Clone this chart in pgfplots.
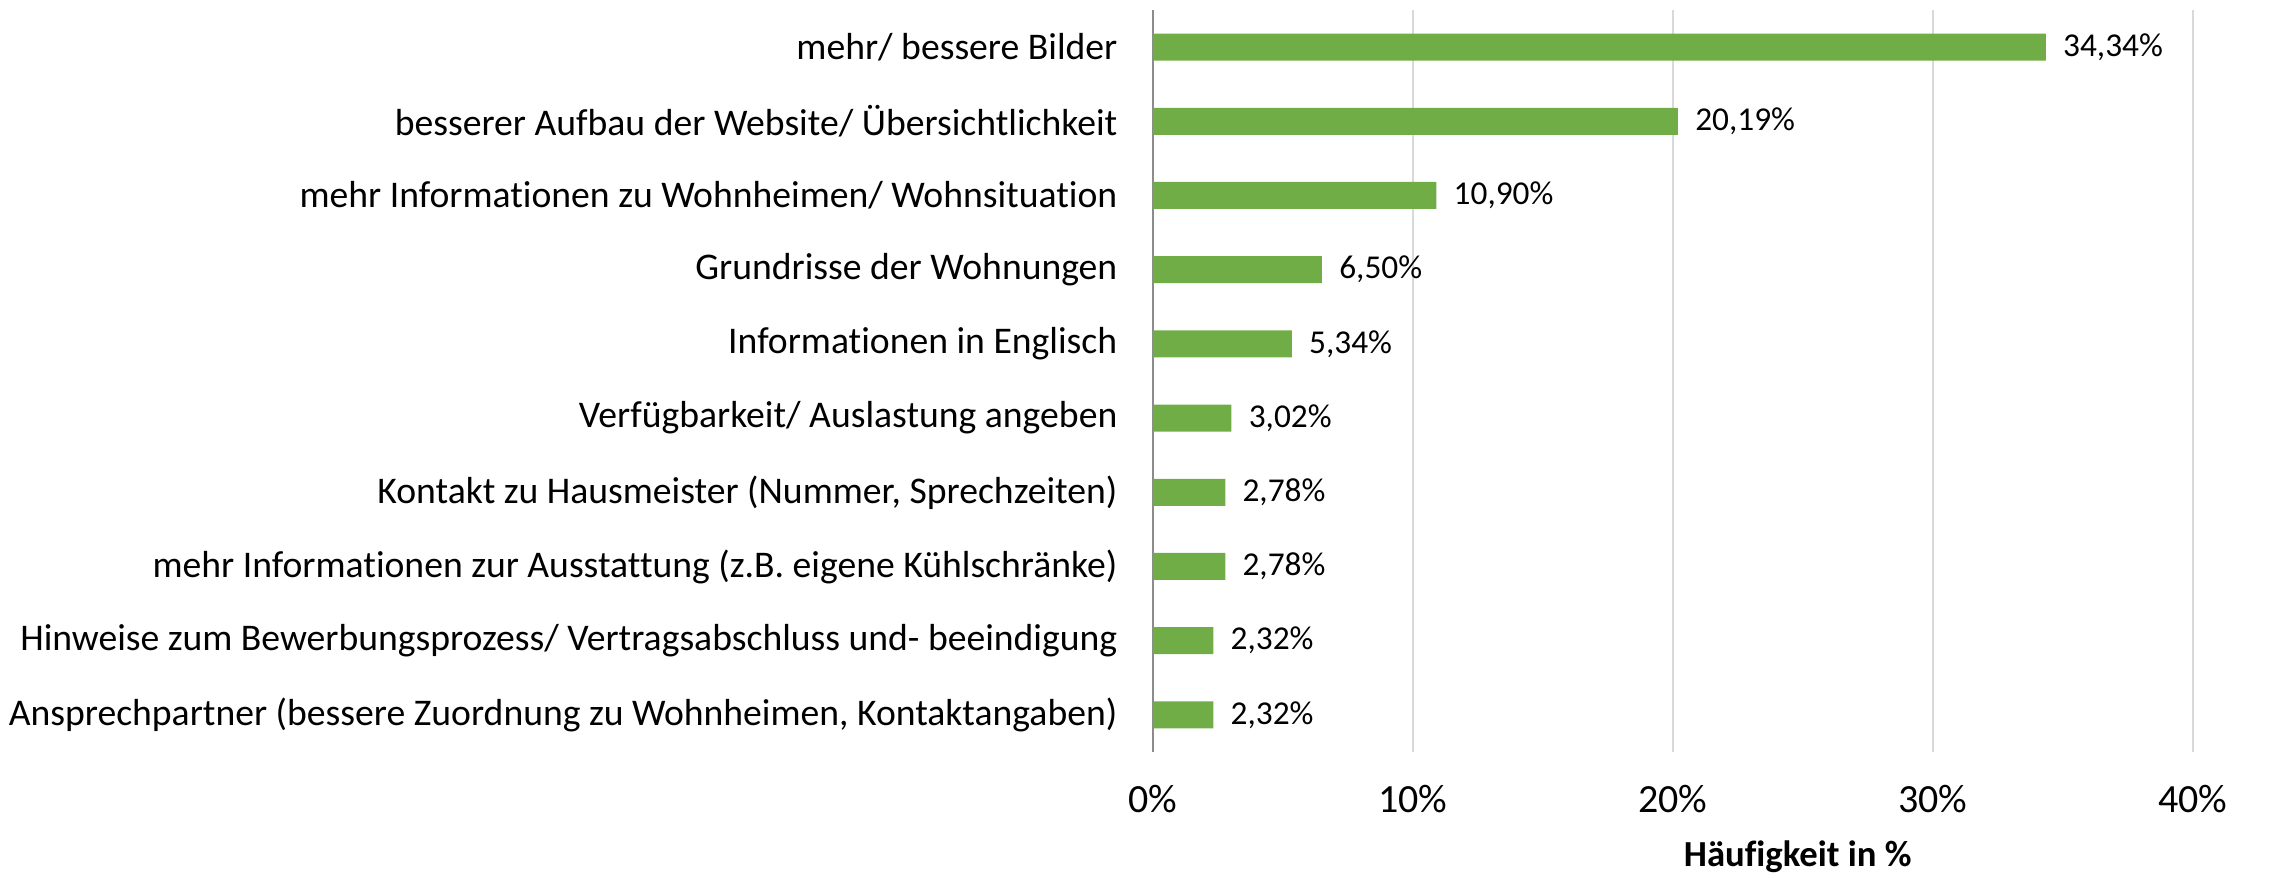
\documentclass[border=0pt]{standalone}
\usepackage{pgfplots}
\pgfplotsset{compat=1.18}
\usepackage{fontspec}
\setmainfont{Carlito}[Ligatures=NoCommon]
\definecolor{bargreen}{HTML}{70AD47}
\definecolor{gridgray}{HTML}{D9D9D9}
\definecolor{axgray}{HTML}{8C8C8C}
\begin{document}
\begin{tikzpicture}
\begin{axis}[
  scale only axis,
  width=312pt, height=222.6pt,
  xbar, bar width=8.1pt,
  xmin=0, xmax=40,
  ymin=-0.5, ymax=9.5,
  y dir=reverse,
  axis line style={draw=none},
  major tick length=0pt,
  xtick={0,10,20,30,40},
  xticklabels={0\%,10\%,20\%,30\%,40\%},
  xticklabel style={font=\fontsize{12}{14}\selectfont, anchor=base, yshift=-18.3pt},
  xmajorgrids, grid style={gridgray, line width=0.6pt},
  extra x ticks={0}, extra x tick labels={},
  extra x tick style={grid style={axgray, line width=0.6pt}},
  ytick={0,...,9},
  yticklabels={
    mehr/ bessere Bilder,
    besserer Aufbau der Website/ Übersichtlichkeit,
    mehr Informationen zu Wohnheimen/ Wohnsituation,
    Grundrisse der Wohnungen,
    Informationen in Englisch,
    Verfügbarkeit/ Auslastung angeben,
    {Kontakt zu Hausmeister (Nummer, Sprechzeiten)},
    mehr Informationen zur Ausstattung (z.B. eigene Kühlschränke),
    Hinweise zum Bewerbungsprozess/ Vertragsabschluss und- beeindigung,
    {Ansprechpartner (bessere Zuordnung zu Wohnheimen, Kontaktangaben)}
  },
  yticklabel style={font=\fontsize{11.3}{13}\selectfont, inner sep=0pt, xshift=-10.5pt},
  xlabel={\textbf{Häufigkeit in \%}},
  xlabel style={font=\fontsize{11}{13}\selectfont, at={(rel axis cs:0.62,0)}, anchor=base, yshift=-34.5pt},
  point meta=x,
  nodes near coords={\pgfmathprintnumber[fixed,fixed zerofill,precision=2,use comma,assume math mode=true]{\pgfplotspointmeta}\%},
  nodes near coords style={font=\fontsize{10}{12}\selectfont, anchor=west, inner sep=0pt, xshift=5pt},
  clip=false,
]
\addplot[fill=bargreen, draw=none] coordinates {
  (34.34,0) (20.19,1) (10.90,2) (6.50,3) (5.34,4)
  (3.02,5) (2.78,6) (2.78,7) (2.32,8) (2.32,9)
};
\coordinate (bl) at (rel axis cs:0,0);
\coordinate (tr) at (rel axis cs:1,1);
\end{axis}
\pgfresetboundingbox
\path[use as bounding box] ([shift={(-345.9pt,-38.1pt)}]bl) rectangle ([shift={(28.5pt,3pt)}]tr);
\end{tikzpicture}
\end{document}
